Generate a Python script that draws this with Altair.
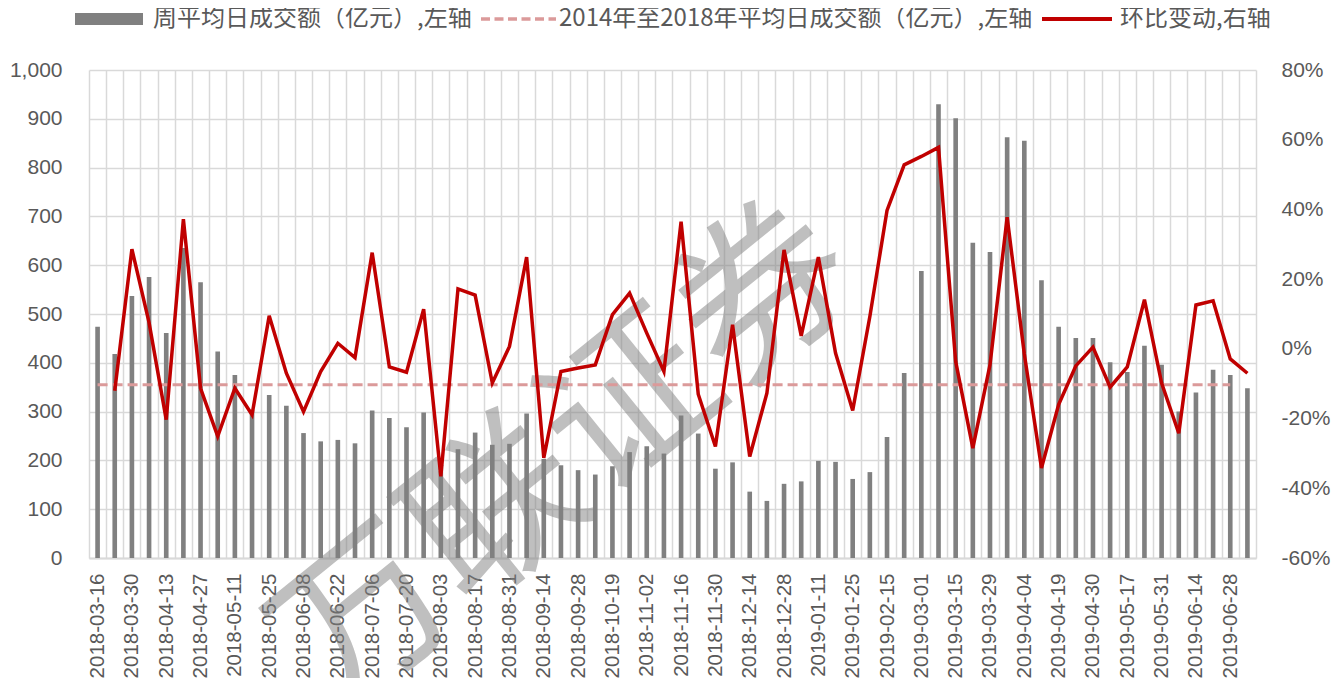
import altair as alt
import pandas as pd

DATES = [
    "2018-03-16", "2018-03-23", "2018-03-30", "2018-04-04", "2018-04-13", "2018-04-20", "2018-04-27", "2018-05-04", "2018-05-11", "2018-05-18",
    "2018-05-25", "2018-06-01", "2018-06-08", "2018-06-15", "2018-06-22", "2018-06-29", "2018-07-06", "2018-07-13", "2018-07-20", "2018-07-27",
    "2018-08-03", "2018-08-10", "2018-08-17", "2018-08-24", "2018-08-31", "2018-09-07", "2018-09-14", "2018-09-21", "2018-09-28", "2018-10-12",
    "2018-10-19", "2018-10-26", "2018-11-02", "2018-11-09", "2018-11-16", "2018-11-23", "2018-11-30", "2018-12-07", "2018-12-14", "2018-12-21",
    "2018-12-28", "2019-01-04", "2019-01-11", "2019-01-18", "2019-01-25", "2019-02-01", "2019-02-15", "2019-02-22", "2019-03-01", "2019-03-08",
    "2019-03-15", "2019-03-22", "2019-03-29", "2019-04-02", "2019-04-04", "2019-04-12", "2019-04-19", "2019-04-26", "2019-04-30", "2019-05-10",
    "2019-05-17", "2019-05-24", "2019-05-31", "2019-06-06", "2019-06-14", "2019-06-21", "2019-06-28", "2019-07-05",
]

TICK_LABELS = [
    "2018-03-16", "2018-03-30", "2018-04-13", "2018-04-27", "2018-05-11", "2018-05-25", "2018-06-08", "2018-06-22",
    "2018-07-06", "2018-07-20", "2018-08-03", "2018-08-17", "2018-08-31", "2018-09-14", "2018-09-28", "2018-10-19",
    "2018-11-02", "2018-11-16", "2018-11-30", "2018-12-14", "2018-12-28", "2019-01-11", "2019-01-25", "2019-02-15",
    "2019-03-01", "2019-03-15", "2019-03-29", "2019-04-04", "2019-04-19", "2019-04-30", "2019-05-17", "2019-05-31",
    "2019-06-14", "2019-06-28",
]

# 周平均日成交额（亿元）
TURNOVER = [
    474, 418, 537, 576, 461, 635, 565, 423, 375, 304,
    334, 312, 256, 239, 242, 235, 302, 287, 268, 298,
    190, 223, 257, 232, 234, 296, 203, 190, 180, 171,
    188, 217, 229, 214, 292, 255, 183, 196, 136, 117,
    152, 157, 199, 197, 162, 176, 248, 379, 588, 930,
    901, 646, 627, 862, 855, 569, 474, 451, 451, 401,
    381, 435, 396, 300, 339, 386, 375, 348,
]

# 环比变动 (%)
WOW = [
    None, -12.0, 28.6, 7.5, -20.3, 37.2, -11.3, -25.1, -11.3, -18.9,
    9.5, -7.0, -18.0, -6.5, 1.6, -2.5, 27.6, -5.2, -6.7, 11.4,
    -36.6, 17.2, 15.4, -9.8, 0.7, 26.3, -31.3, -6.5, -5.5, -4.6,
    9.8, 16.0, 4.5, -6.5, 36.5, -13.0, -28.0, 6.9, -30.9, -12.7,
    28.4, 3.7, 26.3, -1.2, -17.7, 9.3, 39.7, 52.8, 55.2, 57.8,
    -3.6, -28.5, -4.6, 37.8, -1.5, -34.2, -16.0, -4.9, 0.5, -11.0,
    -5.2, 14.1, -9.8, -24.2, 12.6, 13.8, -2.9, -7.0,
]

AVG_LEVEL = 355  # 2014年至2018年平均日成交额（亿元）

SERIES = [
    "周平均日成交额（亿元）,左轴",
    "2014年至2018年平均日成交额（亿元）,左轴",
    "环比变动,右轴",
]
WATERMARK = "万联证券"

BAR_COLOR = "#808080"
AVG_COLOR = "#DB9A9A"
LINE_COLOR = "#C00000"
GRID = "#D9D9D9"
TXT = "#595959"
NUM_FONT = "Liberation Sans"
CJK_FONT = "Noto Sans CJK SC"

df = pd.DataFrame({"date": DATES, "turnover": TURNOVER, "wow": WOW})
df["avg"] = [AVG_LEVEL] * (len(DATES) - 1) + [None]

# legend symbol paths (unit = 12 px when symbolSize = 576)
def rect_path(x0, x1, h):
    return f"M{x0:.3f},{-h:.3f}H{x1:.3f}V{h:.3f}H{x0:.3f}Z"

bar_sym = rect_path(-1, 4.667, 0.5)
line_sym = rect_path(-1, 4.833, 0.17)
dash_parts = []
start = -1.0
while start < 5.25:
    end = min(start + 0.75, 5.25)
    dash_parts.append(rect_path(start, end, 0.15))
    start += 1.125
dash_sym = "".join(dash_parts)

label_js = "[" + ",".join(f"'{d}'" for d in TICK_LABELS) + "]"

x_enc = alt.X(
    "date:N",
    sort=DATES,
    scale=alt.Scale(domain=DATES, paddingInner=0, paddingOuter=0),
    title=None,
    axis=alt.Axis(
        tickBand="extent",
        grid=True,
        gridColor=GRID,
        gridWidth=1.5,
        ticks=False,
        domain=True,
        domainColor=GRID,
        domainWidth=2,
        labelAngle=270,
        labelPadding=15,
        labelFont=NUM_FONT,
        labelFontSize=20.5,
        labelColor=TXT,
        labelOverlap=False,
        labelExpr=f"indexof({label_js}, datum.value) >= 0 ? datum.value : ''",
    ),
)

left_scale = alt.Scale(domain=[0, 1000], nice=False)
left_axis = alt.Axis(
    values=list(range(0, 1001, 100)),
    format=",d",
    grid=True,
    gridColor=GRID,
    gridWidth=1.5,
    domain=False,
    ticks=False,
    labelPadding=27,
    labelFont=NUM_FONT,
    labelFontSize=21,
    labelColor=TXT,
)

bars = alt.Chart(df).mark_bar(color=BAR_COLOR, width=alt.RelativeBandSize(0.27)).encode(
    x=x_enc,
    y=alt.Y("turnover:Q", scale=left_scale, axis=left_axis, title=None),
)

avg_line = alt.Chart(df).transform_filter("isValid(datum.avg)").mark_line(
    color=AVG_COLOR, strokeWidth=3, strokeDash=[10, 5]
).encode(
    x=x_enc,
    y=alt.Y("avg:Q", scale=left_scale, axis=left_axis, title=None),
)

left = alt.layer(bars, avg_line)

pct_line = alt.Chart(df).transform_filter("isValid(datum.wow)").mark_line(
    color=LINE_COLOR, strokeWidth=3.5
).encode(
    x=x_enc,
    y=alt.Y(
        "wow:Q",
        scale=alt.Scale(domain=[-60, 80], nice=False),
        title=None,
        axis=alt.Axis(
            orient="right",
            values=list(range(-60, 81, 20)),
            labelExpr="datum.value + '%'",
            grid=False,
            domain=False,
            ticks=False,
            labelPadding=25,
            labelFont=NUM_FONT,
            labelFontSize=21,
            labelColor=TXT,
        ),
    ),
)

watermark = alt.Chart(pd.DataFrame({"t": [WATERMARK]})).mark_text(
    angle=321,
    fontSize=172,
    font=CJK_FONT,
    color="#808080",
    opacity=0.5,
    align="center",
    baseline="middle",
).encode(x=alt.value(478), y=alt.value(390), text="t:N")

legend_def = alt.Legend(
    title=None,
    orient="none",
    direction="horizontal",
    legendX=-14,
    legendY=-63,
    padding=0,
    symbolSize=576,
    symbolOpacity=1,
    symbolStrokeWidth=0,
    labelOffset=54,
    columnPadding=9,
    labelFont=CJK_FONT,
    labelFontSize=24,
    labelColor=TXT,
    labelLimit=2000,
)

legend_layer = alt.Chart(pd.DataFrame({"s": SERIES})).mark_point(filled=True, opacity=0).encode(
    color=alt.Color("s:N", scale=alt.Scale(domain=SERIES, range=[BAR_COLOR, AVG_COLOR, LINE_COLOR]), legend=legend_def),
    shape=alt.Shape("s:N", scale=alt.Scale(domain=SERIES, range=[bar_sym, dash_sym, line_sym]), legend=legend_def),
)

chart = (
    alt.layer(watermark, left, pct_line, legend_layer)
    .resolve_scale(y="independent")
    .properties(
        width=1167,
        height=488,
        autosize=alt.AutoSizeParams(type="none"),
        padding={"left": 81, "top": 62, "right": 76, "bottom": 120},
    )
    .configure_view(strokeWidth=0)
)

chart.save("out.html", embed_options={"renderer": "svg", "actions": False})
